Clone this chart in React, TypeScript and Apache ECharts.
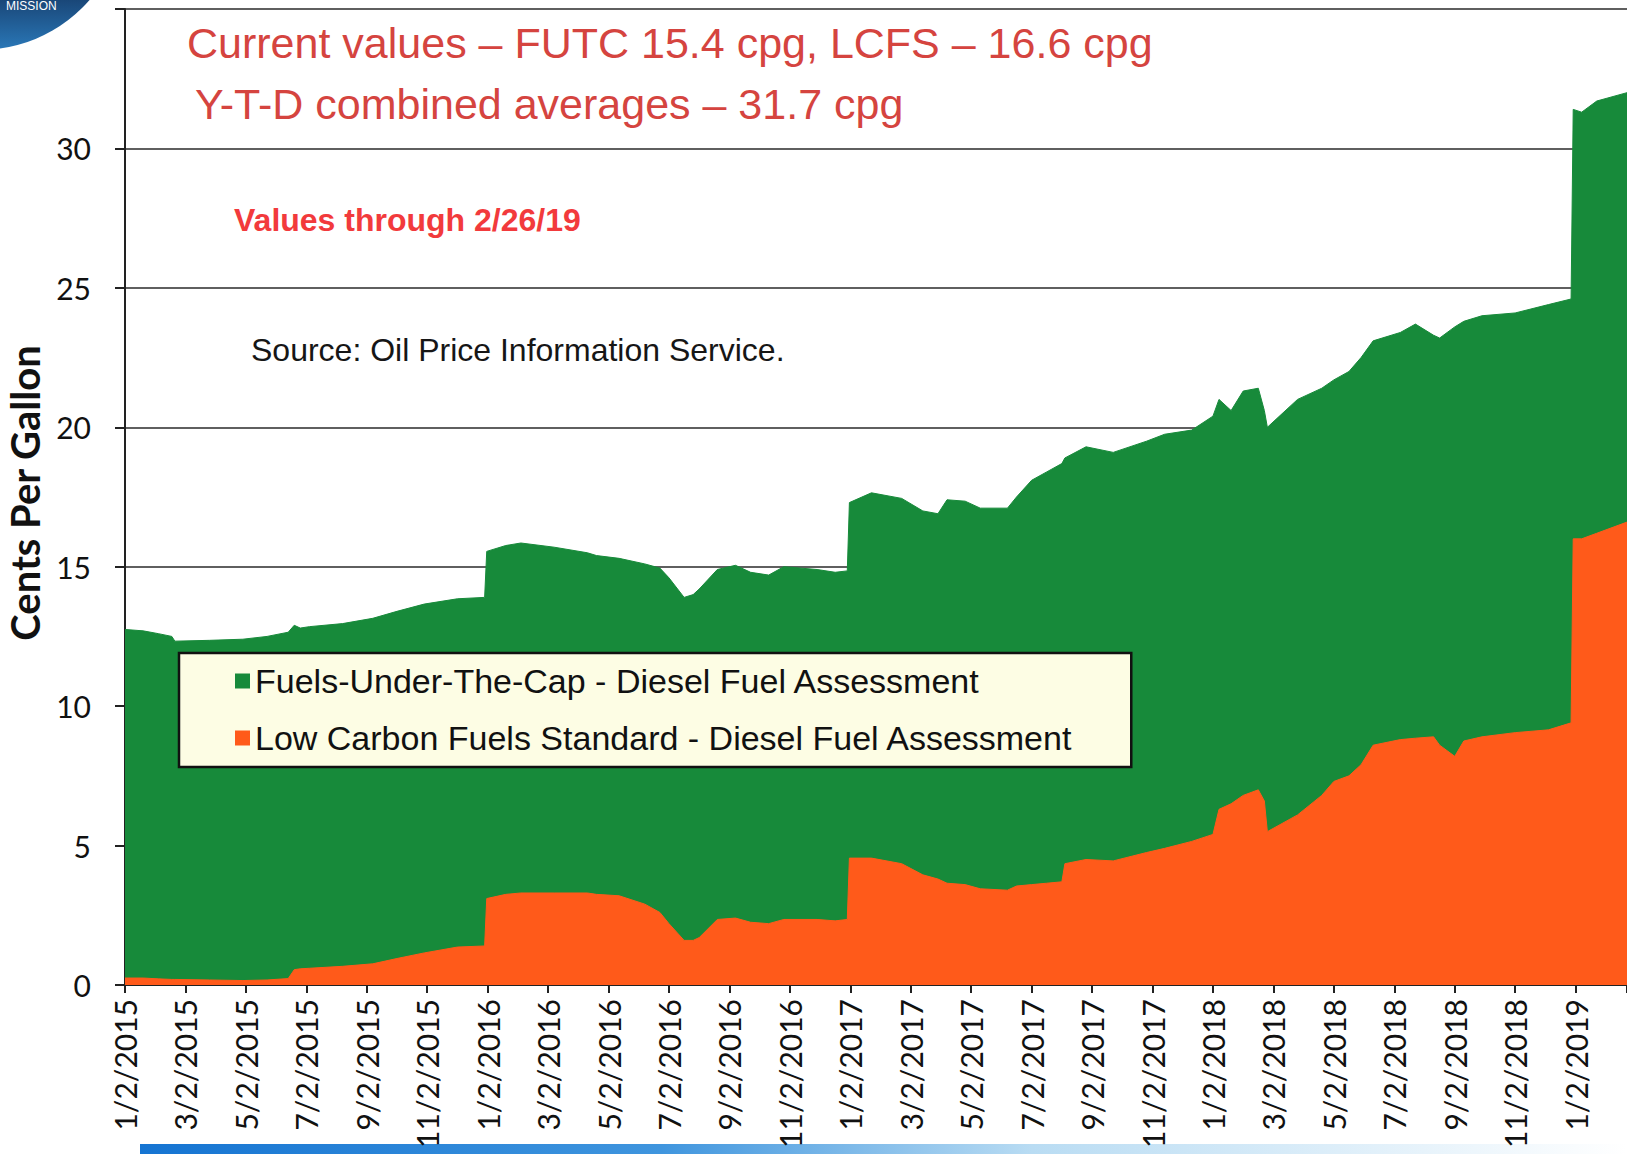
import React, { useEffect, useRef } from "react";
import * as echarts from "echarts";

// Months elapsed since 1/2/2015 for each sampled observation
const monthOffset = [
  0, 0.6, 1.1, 1.55, 1.65, 2.8, 3.9, 4.7, 5.4, 5.6, 5.8, 6.1, 7.2, 8.2, 9.0, 9.9, 11.0, 11.9,
  11.97, 12.6, 13.1, 14.2, 15.3, 15.6, 16.35, 17.2, 17.7, 18.0, 18.5, 18.8, 19.0, 19.6, 20.2,
  20.7, 21.3, 21.8, 22.9, 23.5, 23.9, 23.97, 24.7, 25.7, 26.4, 26.9, 27.2, 27.8, 28.3, 29.2,
  29.5, 30.0, 30.5, 31.0, 31.1, 31.8, 32.7, 33.8, 34.4, 35.3, 36.0, 36.2, 36.6, 37.0, 37.5,
  37.7, 37.8, 38.8, 39.6, 40.0, 40.5, 40.9, 41.3, 42.2, 42.7, 43.3, 43.5, 44.0, 44.3, 44.9,
  46.0, 47.1, 47.85, 47.92, 48.2, 48.7, 49.7,
];

// Low Carbon Fuels Standard (cents per gallon)
const lcfsValues = [
  0.25, 0.25, 0.22, 0.2, 0.2, 0.18, 0.16, 0.18, 0.23, 0.55, 0.58, 0.6, 0.67, 0.76, 0.95, 1.15, 1.36, 1.4,
  3.1, 3.25, 3.3, 3.3, 3.3, 3.25, 3.2, 2.9, 2.6, 2.2, 1.6, 1.6, 1.7, 2.35, 2.4,
  2.25, 2.2, 2.35, 2.35, 2.3, 2.35, 4.55, 4.55, 4.35, 3.95, 3.8, 3.65, 3.6, 3.45, 3.4,
  3.55, 3.6, 3.65, 3.7, 4.35, 4.5, 4.45, 4.75, 4.9, 5.15, 5.4, 6.3, 6.5, 6.8, 7.0,
  6.6, 5.5, 6.1, 6.8, 7.3, 7.5, 7.9, 8.6, 8.8, 8.85, 8.9, 8.6, 8.2, 8.75, 8.9,
  9.05, 9.15, 9.4, 16.0, 16.0, 16.2, 16.6,
];

// Fuels-Under-The-Cap (cents per gallon)
const futcValues = [
  12.5, 12.45, 12.38, 12.3, 12.13, 12.18, 12.24, 12.32, 12.42, 12.35, 12.22, 12.25, 12.29, 12.39, 12.45, 12.51, 12.49, 12.5,
  12.45, 12.51, 12.55, 12.4, 12.2, 12.15, 12.1, 12.2, 12.35, 12.4, 12.3, 12.4, 12.5, 12.55, 12.65,
  12.55, 12.5, 12.65, 12.55, 12.5, 12.5, 12.75, 13.1, 13.1, 13.05, 13.1, 13.75, 13.75, 13.65, 13.7,
  13.95, 14.5, 14.75, 15.0, 14.55, 14.8, 14.65, 14.75, 14.85, 14.75, 15.0, 14.7, 14.1, 14.5, 14.4,
  14.0, 14.5, 14.9, 14.6, 14.4, 14.5, 14.6, 14.5, 14.6, 14.85, 14.4, 14.6, 15.4, 15.05, 15.1,
  15.05, 15.25, 15.2, 15.4, 15.3, 15.5, 15.4,
];

const xTickLabels = [
  "1/2/2015", "3/2/2015", "5/2/2015", "7/2/2015", "9/2/2015", "11/2/2015",
  "1/2/2016", "3/2/2016", "5/2/2016", "7/2/2016", "9/2/2016", "11/2/2016",
  "1/2/2017", "3/2/2017", "5/2/2017", "7/2/2017", "9/2/2017", "11/2/2017",
  "1/2/2018", "3/2/2018", "5/2/2018", "7/2/2018", "9/2/2018", "11/2/2018",
  "1/2/2019",
];

const FUTC_NAME = "Fuels-Under-The-Cap - Diesel Fuel Assessment";
const LCFS_NAME = "Low Carbon Fuels Standard - Diesel Fuel Assessment";
const GREEN = "#178a3a";
const ORANGE = "#ff5a1a";

export default function App() {
  const ref = useRef<HTMLDivElement>(null);

  useEffect(() => {
    if (!ref.current) return;
    const chart = echarts.init(ref.current, undefined, { renderer: "svg" });
    // Stack FUTC on top of LCFS: the green band's upper edge is the sum of both series.
    const lcfsData = monthOffset.map((m, i) => [m, lcfsValues[i]]);
    const stackedTopData = monthOffset.map((m, i) => [
      m,
      Math.round((lcfsValues[i] + futcValues[i]) * 100) / 100,
    ]);

    chart.setOption({
      animation: false,
      backgroundColor: "#ffffff",
      grid: { left: 125, right: 0, top: 9, bottom: 169, containLabel: false },
      xAxis: {
        type: "value",
        min: 0,
        max: 49.7,
        interval: 2,
        axisLine: { show: true, onZero: false, lineStyle: { color: "#222", width: 2 } },
        axisTick: { show: true, length: 8, lineStyle: { color: "#222", width: 2 } },
        splitLine: { show: false },
        axisLabel: {
          rotate: 90,
          margin: 14,
          fontSize: 30,
          fontFamily: "Lato",
          color: "#111",
          formatter: (v: number) => {
            const idx = Math.round(v / 2);
            return Math.abs(v - idx * 2) < 1e-6 && xTickLabels[idx] ? xTickLabels[idx] : "";
          },
        },
      },
      yAxis: {
        type: "value",
        min: 0,
        max: 35,
        interval: 5,
        axisLine: { show: true, lineStyle: { color: "#222", width: 2 } },
        axisTick: { show: true, length: 10, lineStyle: { color: "#222", width: 2 } },
        splitLine: { show: true, lineStyle: { color: "#2a2a2a", width: 1.6 } },
        axisLabel: {
          margin: 34,
          fontSize: 30,
          fontFamily: "Lato",
          color: "#111",
          formatter: (v: number) => (v === 35 ? "" : String(v)),
        },
      },
      legend: {
        data: [FUTC_NAME, LCFS_NAME],
        orient: "vertical",
        left: 179,
        top: 653,
        backgroundColor: "#fdfde4",
        borderColor: "#111",
        borderWidth: 2.5,
        borderRadius: 0,
        padding: [11, 58, 12, 56],
        itemGap: 23,
        itemWidth: 15,
        itemHeight: 15,
        icon: "rect",
        selectedMode: false,
        textStyle: { fontSize: 34, fontFamily: "Liberation Sans", color: "#111" },
      },
      series: [
        {
          name: FUTC_NAME,
          type: "line",
          data: stackedTopData,
          symbol: "none",
          showSymbol: false,
          z: 2,
          itemStyle: { color: GREEN },
          lineStyle: { color: GREEN, width: 1 },
          areaStyle: { color: GREEN, opacity: 1 },
        },
        {
          name: LCFS_NAME,
          type: "line",
          data: lcfsData,
          symbol: "none",
          showSymbol: false,
          z: 3,
          itemStyle: { color: ORANGE },
          lineStyle: { color: ORANGE, width: 1 },
          areaStyle: { color: ORANGE, opacity: 1 },
        },
      ],
      graphic: [
        {
          type: "circle",
          shape: { cx: -20, cy: -95, r: 145 },
          style: {
            fill: new echarts.graphic.LinearGradient(0, 0, 0, 1, [
              { offset: 0, color: "#163a66" },
              { offset: 0.8, color: "#173f6e" },
              { offset: 1, color: "#2a78b8" },
            ]),
          },
          silent: true,
        },
        {
          type: "text",
          x: 6,
          y: 0,
          style: { text: "MISSION", fill: "#ffffff", font: "12px Liberation Sans" },
          silent: true,
        },
        {
          type: "text",
          x: 187,
          y: 43,
          style: {
            text: "Current values – FUTC 15.4 cpg, LCFS – 16.6 cpg",
            fill: "#d5443f",
            font: "43px 'Liberation Sans'",
            verticalAlign: "middle",
          },
        },
        {
          type: "text",
          x: 195,
          y: 104,
          style: {
            text: "Y-T-D combined averages – 31.7 cpg",
            fill: "#d5443f",
            font: "43px 'Liberation Sans'",
            verticalAlign: "middle",
          },
        },
        {
          type: "text",
          x: 234,
          y: 220,
          style: {
            text: "Values through 2/26/19",
            fill: "#f23a3c",
            font: "bold 32px 'Liberation Sans'",
            verticalAlign: "middle",
          },
        },
        {
          type: "text",
          x: 251,
          y: 350,
          style: {
            text: "Source: Oil Price Information Service.",
            fill: "#161616",
            font: "32px 'Liberation Sans'",
            verticalAlign: "middle",
          },
        },
        {
          type: "text",
          x: 25,
          y: 493,
          rotation: Math.PI / 2,
          style: {
            text: "Cents Per Gallon",
            fill: "#111",
            font: "bold 40px Lato",
            align: "center",
            verticalAlign: "middle",
          },
        },
        {
          type: "rect",
          shape: { x: 140, y: 1144, width: 1487, height: 10 },
          style: {
            fill: new echarts.graphic.LinearGradient(0, 0, 1, 0, [
              { offset: 0, color: "#1574d2" },
              { offset: 0.35, color: "#3f95de" },
              { offset: 0.6, color: "#b9dcf3" },
              { offset: 1, color: "#ffffff" },
            ]),
          },
          silent: true,
        },
      ],
    });

    return () => chart.dispose();
  }, []);

  return (
    <div
      ref={ref}
      style={{ position: "absolute", left: 0, top: 0, width: 1627, height: 1154 }}
    />
  );
}
